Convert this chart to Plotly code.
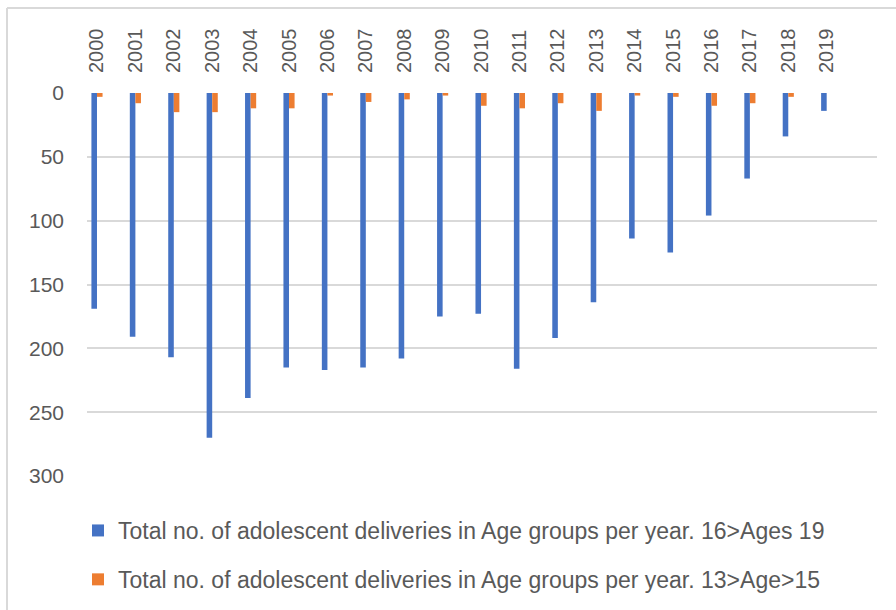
import plotly.graph_objects as go

years = [str(y) for y in range(2000, 2020)]
age_16_19 = [169, 191, 207, 270, 239, 215, 217, 215, 208, 175,
             173, 216, 192, 164, 114, 125, 96, 67, 34, 14]
age_13_15 = [3, 8, 15, 15, 12, 12, 2, 7, 5, 2,
             10, 12, 8, 14, 2, 3, 10, 8, 3, 0]

name1 = "Total no. of adolescent deliveries in Age groups per year. 16>Ages 19"
name2 = "Total no. of adolescent deliveries in Age groups per year. 13>Age>15"

FONT = "Liberation Sans, Arial, sans-serif"
GREY = "#595959"

fig = go.Figure()
fig.add_trace(go.Bar(x=years, y=age_16_19, name=name1, marker_color="#4472C4",
                     marker_line_width=0, legendgroup="a"))
fig.add_trace(go.Bar(x=years, y=age_13_15, name=name2, marker_color="#ED7D31",
                     marker_line_width=0, legendgroup="b"))

fig.update_layout(
    width=896, height=610,
    margin=dict(l=87, r=19, t=93, b=134, autoexpand=False),
    paper_bgcolor="white", plot_bgcolor="white",
    barmode="group", bargap=0.71, bargroupgap=0,
    font=dict(family=FONT, color=GREY, size=21),
    showlegend=True,
    legend=dict(orientation="v", xref="container", yref="container",
                x=78 / 896, xanchor="left", y=1 - 509 / 610, yanchor="top",
                font=dict(size=23, color=GREY), tracegroupgap=16,
                traceorder="grouped", bgcolor="rgba(0,0,0,0)"),
    xaxis=dict(type="category", side="top", tickangle=-90,
               range=[-0.26, 20.31], showgrid=False, showline=False,
               zeroline=False, ticks="", ticklabelstandoff=19,
               tickfont=dict(size=20, color=GREY)),
    yaxis=dict(range=[300, 0], autorange=False, dtick=50, tick0=0,
               showgrid=True, gridcolor="#D9D9D9", gridwidth=2,
               zeroline=False, showline=False, ticks="",
               ticklabelstandoff=22, tickfont=dict(size=21, color=GREY)),
    shapes=[
        dict(type="line", xref="paper", yref="paper", x0=-80 / 790,
             x1=1 + 19 / 790, y0=1 + 85 / 383, y1=1 + 85 / 383,
             line=dict(color="#D9D9D9", width=2)),
        dict(type="line", xref="paper", yref="paper", x0=-80 / 790, x1=-80 / 790,
             y0=1 + 85 / 383, y1=-134 / 383,
             line=dict(color="#D9D9D9", width=2)),
    ],
)

fig.write_html("out.html")
